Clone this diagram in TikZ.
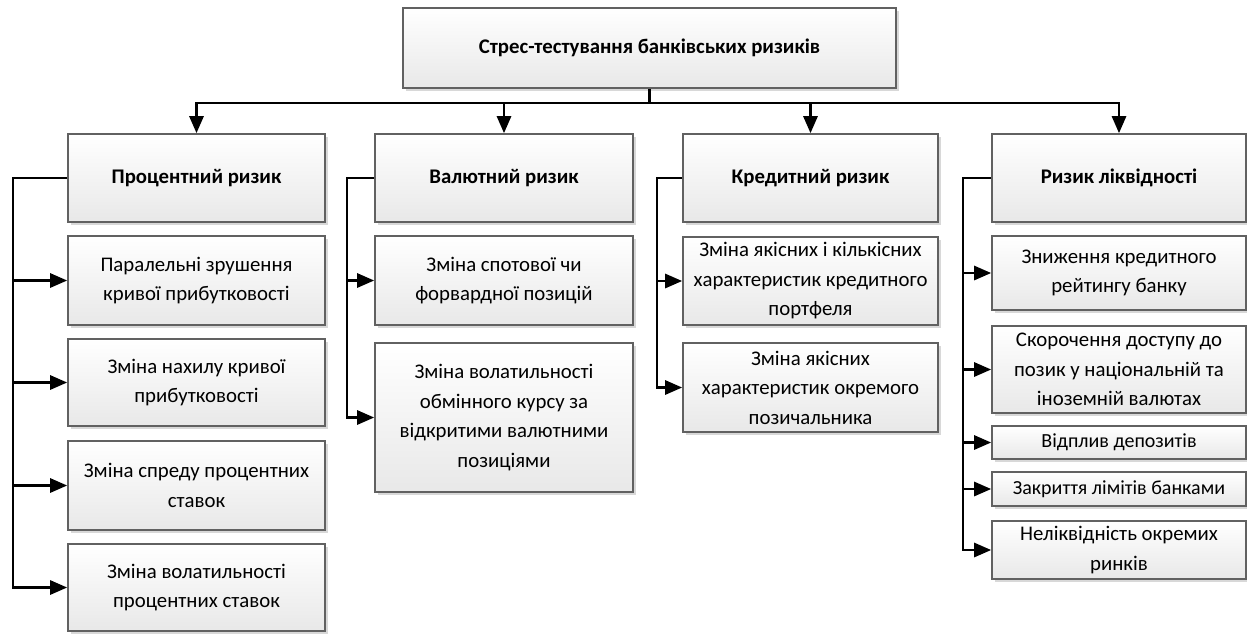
\documentclass[tikz,border=0pt]{standalone}
\usepackage{fontspec}
\setmainfont{Carlito}
\usetikzlibrary{arrows.meta,shadows}
\begin{document}
\begin{tikzpicture}[x=1pt,y=-1pt,
  box/.style={draw=black!62, line width=1.6pt, top color=white, bottom color=black!9,
    drop shadow={shadow xshift=2.5pt, shadow yshift=-2.5pt, fill=black!30, opacity=0.5},
    align=center, inner sep=1pt, font=\fontsize{20.8}{29.5}\selectfont},
  head/.style={box, font=\bfseries\fontsize{20.8}{29.5}\selectfont},
  small/.style={font=\fontsize{20}{28}\selectfont},
  c1w/.style={minimum width=257pt},
  c2w/.style={minimum width=258pt},
  c3w/.style={minimum width=255pt},
  c4w/.style={minimum width=254pt},
  conn/.style={draw=black, line width=2.7pt, line join=miter},
  arr/.style={conn, -{Triangle[length=17pt,width=14pt]}}
]
\useasboundingbox (0,0) rectangle (1247,633);

% top
\node[head, minimum width=493pt, minimum height=80pt] (top) at (649.5,48) {Стрес-тестування банківських ризиків};

% heads
\node[head, c1w, minimum height=88pt] (h1) at (196.5,178) {Процентний ризик};
\node[head, c2w, minimum height=88pt] (h2) at (504,178) {Валютний ризик};
\node[head, c3w, minimum height=88pt] (h3) at (810.5,178) {Кредитний ризик};
\node[head, c4w, minimum height=88pt] (h4) at (1119,178) {Ризик ліквідності};

% column 1
\node[box, c1w, minimum height=89pt] (a1) at (196.5,280.5) {Паралельні зрушення\\кривої прибутковості};
\node[box, c1w, minimum height=87pt] (a2) at (196.5,382.5) {Зміна нахилу кривої\\прибутковості};
\node[box, c1w, minimum height=89pt] (a3) at (196.5,485.5) {Зміна спреду процентних\\ставок};
\node[box, c1w, minimum height=87pt] (a4) at (196.5,587.5) {Зміна волатильності\\процентних ставок};

% column 2
\node[box, c2w, minimum height=89pt] (b1) at (504,280.5) {Зміна спотової чи\\форвардної позицій};
\node[box, c2w, minimum height=149pt] (b2) at (504,417.5) {Зміна волатильності\\обмінного курсу за\\відкритими валютними\\позиціями};

% column 3
\node[box, c3w, minimum height=88pt] (c1) at (810.5,281) {Зміна якісних і кількісних\\характеристик кредитного\\портфеля};
\node[box, c3w, minimum height=89pt] (c2) at (810.5,387.5) {Зміна якісних\\характеристик окремого\\позичальника};

% column 4
\node[box, c4w, minimum height=74pt] (d1) at (1119,273) {Зниження кредитного\\рейтингу банку};
\node[box, c4w, minimum height=87pt] (d2) at (1119,369.5) {Скорочення доступу до\\позик у національній та\\іноземній валютах};
\node[box, small, c4w, minimum height=33pt] (d3) at (1119,442.5) {Відплив депозитів};
\node[box, small, c4w, minimum height=34pt] (d4) at (1119,489) {Закриття лімітів банками};
\node[box, c4w, minimum height=58pt] (d5) at (1119,550) {Неліквідність окремих\\ринків};

% top connectors
\coordinate (bar) at (649.5,103);
\draw[conn] (top.south) -- (bar);
\draw[arr] (bar) -| (h1.north);
\draw[arr] (bar) -| (h2.north);
\draw[arr] (bar) -| (h3.north);
\draw[arr] (bar) -| (h4.north);

% column 1 connectors
\coordinate (v1) at (13,178);
\draw[arr] (h1.west) -- (v1) |- (a4.west);
\draw[arr] (v1 |- a1.west) -- (a1.west);
\draw[arr] (v1 |- a2.west) -- (a2.west);
\draw[arr] (v1 |- a3.west) -- (a3.west);

% column 2 connectors
\coordinate (v2) at (347,178);
\draw[arr] (h2.west) -- (v2) |- (b2.west);
\draw[arr] (v2 |- b1.west) -- (b1.west);

% column 3 connectors
\coordinate (v3) at (657,178);
\draw[arr] (h3.west) -- (v3) |- (c2.west);
\draw[arr] (v3 |- c1.west) -- (c1.west);

% column 4 connectors
\coordinate (v4) at (963,178);
\draw[arr] (h4.west) -- (v4) |- (d5.west);
\draw[arr] (v4 |- d1.west) -- (d1.west);
\draw[arr] (v4 |- d2.west) -- (d2.west);
\draw[arr] (v4 |- d3.west) -- (d3.west);
\draw[arr] (v4 |- d4.west) -- (d4.west);
\end{tikzpicture}
\end{document}
